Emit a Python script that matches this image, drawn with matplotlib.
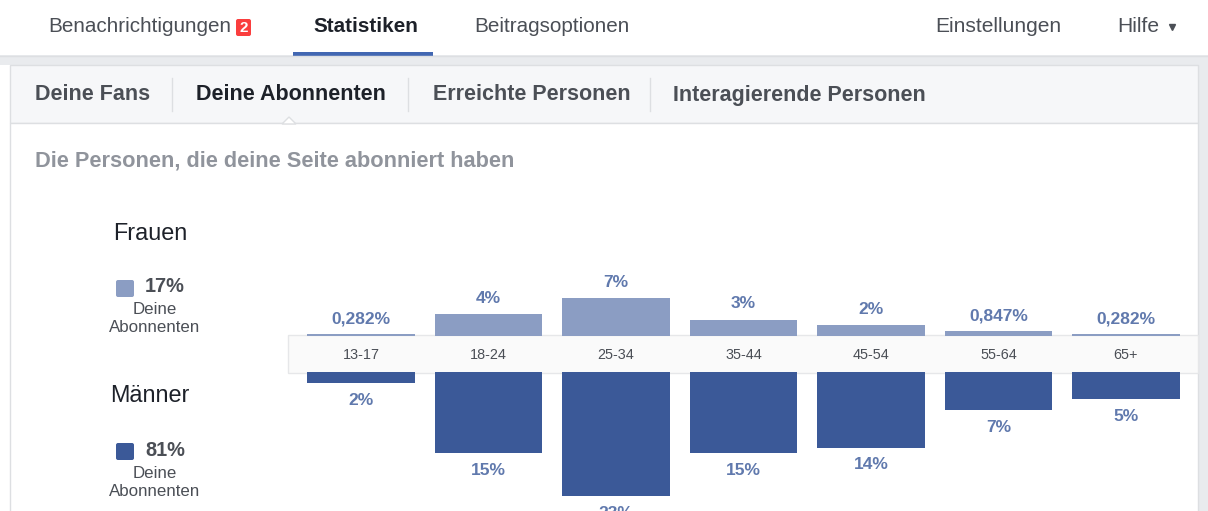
import matplotlib
matplotlib.use("Agg")
import matplotlib.pyplot as plt
from matplotlib.patches import Rectangle, FancyBboxPatch, Polygon

plt.rcParams['font.family'] = ['Liberation Sans', 'DejaVu Sans']

# data
age_groups = ['13-17', '18-24', '25-34', '35-44', '45-54', '55-64', '65+']
women = [0.282, 4, 7, 3, 2, 0.847, 0.282]
men = [2, 15, 23, 15, 14, 7, 5]
women_labels = ['0,282%', '4%', '7%', '3%', '2%', '0,847%', '0,282%']
men_labels = ['2%', '15%', '23%', '15%', '14%', '7%', '5%']
women_total = '17%'
men_total = '81%'

nav_tabs = ['Benachrichtigungen', 'Statistiken', 'Beitragsoptionen']
sub_tabs = ['Deine Fans', 'Deine Abonnenten', 'Erreichte Personen', 'Interagierende Personen']

W, H = 1208, 511
C_WOMEN = '#8b9dc3'
C_MEN = '#3b5998'
C_VAL = '#6079ad'
C_TEXT = '#4b4f56'
C_DARK = '#1d2129'
C_LINE = '#dddfe2'

fig = plt.figure(figsize=(W / 100, H / 100), dpi=100)

# page background in pixel coordinates
bg = fig.add_axes([0, 0, 1, 1])
bg.set_xlim(0, W)
bg.set_ylim(H, 0)
bg.axis('off')

bg.add_patch(Rectangle((0, 55), W, 10, facecolor='#e9ebee', edgecolor='none'))
bg.plot([0, W], [56, 56], color=C_LINE, lw=1)
bg.add_patch(Rectangle((1198, 65), 10, H - 65, facecolor='#e9ebee', edgecolor='none'))
bg.add_patch(Rectangle((10, 65), 1188, 58, facecolor='#f6f7f9', edgecolor=C_LINE, lw=1))
bg.add_patch(Rectangle((10, 123), 1188, H, facecolor='white', edgecolor=C_LINE, lw=1))

# top navigation
bg.text(48, 27, nav_tabs[0], fontsize=14.9, color=C_TEXT, va='center')
bg.add_patch(FancyBboxPatch((236, 19), 15, 17, boxstyle='round,pad=0,rounding_size=2',
                            facecolor='#fa3e3e', edgecolor='none'))
bg.text(243.5, 28, '2', fontsize=11, color='white', weight='bold', ha='center', va='center')
bg.text(313, 27, nav_tabs[1], fontsize=14.9, color=C_DARK, weight='bold', va='center')
bg.add_patch(Rectangle((293, 52), 140, 4, facecolor='#4267b2', edgecolor='none'))
bg.text(474, 27, nav_tabs[2], fontsize=14.9, color=C_TEXT, va='center')
bg.text(935, 27, 'Einstellungen', fontsize=15.1, color=C_TEXT, va='center')
bg.text(1117, 27, 'Hilfe', fontsize=15.1, color=C_TEXT, va='center')
bg.plot([1172], [27], marker='v', ms=4.5, color=C_TEXT)

# sub tabs
sub_x = [35, 196, 433, 673]
for i, (x, label) in enumerate(zip(sub_x, sub_tabs)):
    bg.text(x, 95, label, fontsize=15.5, weight='bold', va='center',
            color=C_DARK if i == 1 else C_TEXT)
for x in [172, 408, 650]:
    bg.plot([x, x], [78, 111], color=C_LINE, lw=1)
bg.add_patch(Polygon([[282, 124], [289, 117], [296, 124]], closed=True,
                     facecolor='white', edgecolor=C_LINE, lw=1))

bg.text(35, 161, 'Die Personen, die deine Seite abonniert haben', fontsize=15.7,
        weight='bold', color='#90949c', va='center')

# legend on the left
for y0, title, col, total in [(233, 'Frauen', C_WOMEN, women_total),
                              (396, 'Männer', C_MEN, men_total)]:
    bg.text(150, y0, title, fontsize=16.8, color=C_DARK, ha='center', va='center')
    bg.add_patch(FancyBboxPatch((116, y0 + 47), 18, 17, boxstyle='round,pad=0,rounding_size=2',
                                facecolor=col, edgecolor='none'))
    bg.text(145, y0 + 54, total, fontsize=14.4, weight='bold', color=C_TEXT, va='center')
    bg.text(155, y0 + 77, 'Deine', fontsize=12.2, color=C_TEXT, ha='center', va='center')
    bg.text(155, y0 + 95, 'Abonnenten', fontsize=12.2, color=C_TEXT, ha='center', va='center')

# band with the age groups
bg.add_patch(Rectangle((288, 335), 910, 38, facecolor='#fafafa', edgecolor='#e6e7e9', lw=1))

# bar charts
px_per_pct = 5.4
left = 297.25 / W
width = 892.5 / W
x = list(range(len(age_groups)))

ax_f = fig.add_axes([left, (H - 336) / H, width, 100 / H])
ax_f.patch.set_alpha(0)
bars_f = ax_f.bar(x, women, width=0.847, color=C_WOMEN)
ax_f.bar_label(bars_f, labels=women_labels, padding=6, fontsize=12.5,
               weight='bold', color=C_VAL)
ax_f.set_xlim(-0.5, len(age_groups) - 0.5)
ax_f.set_ylim(0, 100 / px_per_pct)
ax_f.axis('off')

# men grow downwards from the band
ax_m = fig.add_axes([left, (H - 372 - 140) / H, width, 140 / H])
ax_m.patch.set_alpha(0)
bars_m = ax_m.bar(x, [-v for v in men], width=0.847, color=C_MEN)
ax_m.bar_label(bars_m, labels=men_labels, padding=7, fontsize=12.5,
               weight='bold', color=C_VAL)
ax_m.set_xlim(-0.5, len(age_groups) - 0.5)
ax_m.set_ylim(-140 / px_per_pct, 0)
ax_m.xaxis.tick_top()
ax_m.set_xticks(x)
ax_m.set_xticklabels(age_groups, fontsize=10.4, color=C_TEXT)
ax_m.tick_params(axis='x', length=0, pad=7)
ax_m.set_yticks([])
for s in ax_m.spines.values():
    s.set_visible(False)

plt.savefig('out.png', dpi=100)
